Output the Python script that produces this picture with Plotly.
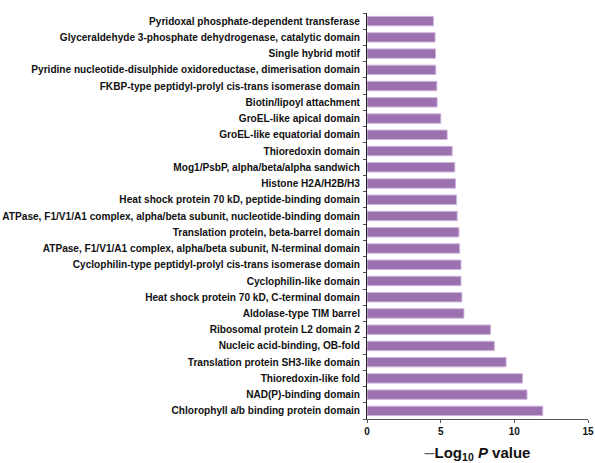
import plotly.graph_objects as go

# Enriched protein domains (top to bottom) and their -log10 P values
domains = [
    "Pyridoxal phosphate-dependent transferase",
    "Glyceraldehyde 3-phosphate dehydrogenase, catalytic domain",
    "Single hybrid motif",
    "Pyridine nucleotide-disulphide oxidoreductase, dimerisation domain",
    "FKBP-type peptidyl-prolyl cis-trans isomerase domain",
    "Biotin/lipoyl attachment",
    "GroEL-like apical domain",
    "GroEL-like equatorial domain",
    "Thioredoxin domain",
    "Mog1/PsbP, alpha/beta/alpha sandwich",
    "Histone H2A/H2B/H3",
    "Heat shock protein 70 kD, peptide-binding domain",
    "ATPase, F1/V1/A1 complex, alpha/beta subunit, nucleotide-binding domain",
    "Translation protein, beta-barrel domain",
    "ATPase, F1/V1/A1 complex, alpha/beta subunit, N-terminal domain",
    "Cyclophilin-type peptidyl-prolyl cis-trans isomerase domain",
    "Cyclophilin-like domain",
    "Heat shock protein 70 kD, C-terminal domain",
    "Aldolase-type TIM barrel",
    "Ribosomal protein L2 domain 2",
    "Nucleic acid-binding, OB-fold",
    "Translation protein SH3-like domain",
    "Thioredoxin-like fold",
    "NAD(P)-binding domain",
    "Chlorophyll a/b binding protein domain",
]
neg_log_p = [
    4.51, 4.62, 4.65, 4.67, 4.74, 4.76, 5.01, 5.44, 5.78, 5.96, 6.01, 6.08, 6.12,
    6.24, 6.29, 6.38, 6.38, 6.44, 6.58, 8.39, 8.64, 9.44, 10.55, 10.86, 11.93,
]
x_ticks = [0, 5, 10, 15]

fig = go.Figure(
    go.Bar(
        x=neg_log_p,
        y=domains,
        orientation="h",
        marker=dict(color="#9b71b0", line=dict(color="#cdb6dc", width=1)),
    )
)

fig.update_layout(
    width=595,
    height=463,
    margin=dict(l=367, r=7, t=13, b=44),
    plot_bgcolor="white",
    paper_bgcolor="white",
    bargap=0.42,
    showlegend=False,
    font=dict(family="Liberation Sans, Arial, sans-serif", color="#111111"),
)

fig.update_yaxes(
    automargin=False,
    categoryorder="array",
    categoryarray=domains[::-1],
    showline=True,
    linecolor="#222222",
    linewidth=1,
    ticks="outside",
    tickson="boundaries",
    ticklen=3,
    tickcolor="#555555",
    ticklabelstandoff=4,
    tickfont=dict(size=10.1, family="Liberation Sans, Arial, sans-serif", weight="bold"),
    showgrid=False,
    zeroline=False,
)

fig.update_xaxes(
    automargin=False,
    range=[0, 15],
    tickvals=x_ticks,
    showline=True,
    linecolor="#555555",
    linewidth=1,
    ticks="outside",
    ticklen=3,
    tickcolor="#555555",
    ticklabelstandoff=0,
    tickfont=dict(size=10, weight="bold"),
    showgrid=False,
    zeroline=False,
    title=dict(
        text="<span style='color:#666666;font-size:18px'>\u2013</span><b>Log<sub>10</sub> <i>P</i> value</b>",
        font=dict(size=15),
        standoff=16,
    ),
)

fig.write_html("out.html")
